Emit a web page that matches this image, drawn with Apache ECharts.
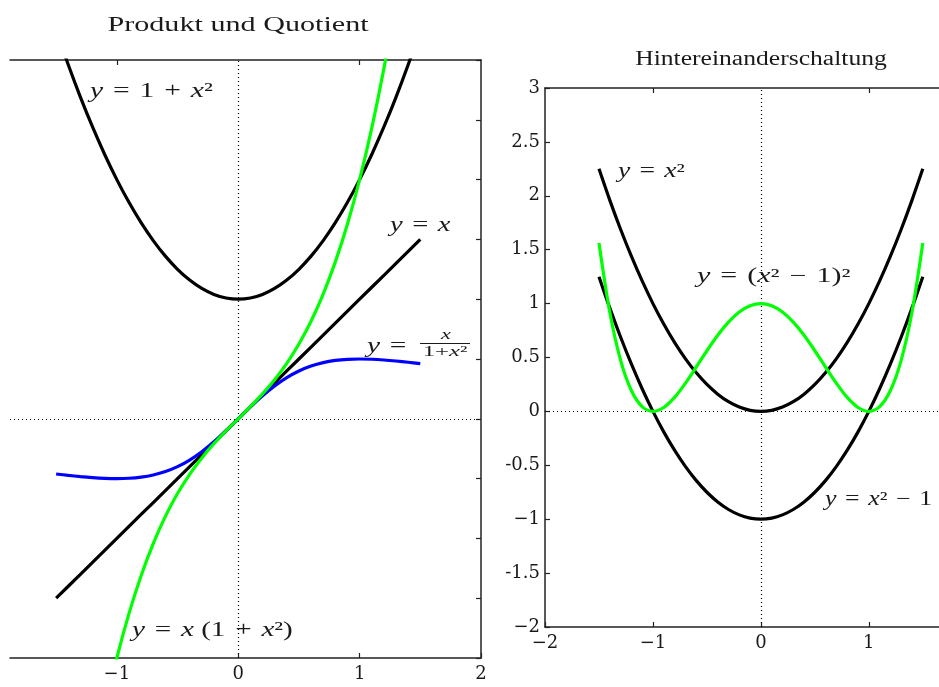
<!DOCTYPE html>
<html><head><meta charset="utf-8">
<script src="https://cdn.jsdelivr.net/npm/echarts@6/dist/echarts.min.js"></script>
<style>html,body{margin:0;padding:0;background:#fff}#c{width:939px;height:687px}</style>
</head><body><div id="c"></div>
<script>
// sample x positions
const xs = [-1.5,-1.4,-1.3,-1.2,-1.1,-1.0,-0.9,-0.8,-0.7,-0.6,-0.5,-0.4,-0.3,-0.2,-0.1,0,0.1,0.2,0.3,0.4,0.5,0.6,0.7,0.8,0.9,1.0,1.1,1.2,1.3,1.4,1.5];
// left panel: Produkt und Quotient
const yIdent = [-1.5,-1.4,-1.3,-1.2,-1.1,-1.0,-0.9,-0.8,-0.7,-0.6,-0.5,-0.4,-0.3,-0.2,-0.1,0,0.1,0.2,0.3,0.4,0.5,0.6,0.7,0.8,0.9,1.0,1.1,1.2,1.3,1.4,1.5];
const yOnePlusSq = [3.25,2.96,2.69,2.44,2.21,2.00,1.81,1.64,1.49,1.36,1.25,1.16,1.09,1.04,1.01,1.00,1.01,1.04,1.09,1.16,1.25,1.36,1.49,1.64,1.81,2.00,2.21,2.44,2.69,2.96,3.25];
const yQuotient = [-0.4615,-0.473,-0.4833,-0.4918,-0.4977,-0.5,-0.4972,-0.4878,-0.4698,-0.4412,-0.4,-0.3448,-0.2752,-0.1923,-0.099,0,0.099,0.1923,0.2752,0.3448,0.4,0.4412,0.4698,0.4878,0.4972,0.5,0.4977,0.4918,0.4833,0.473,0.4615];
const yProduct = [-4.875,-4.144,-3.497,-2.928,-2.431,-2.0,-1.629,-1.312,-1.043,-0.816,-0.625,-0.464,-0.327,-0.208,-0.101,0,0.101,0.208,0.327,0.464,0.625,0.816,1.043,1.312,1.629,2.0,2.431,2.928,3.497,4.144,4.875];
// right panel: Hintereinanderschaltung
const ySquare = [2.25,1.96,1.69,1.44,1.21,1.00,0.81,0.64,0.49,0.36,0.25,0.16,0.09,0.04,0.01,0,0.01,0.04,0.09,0.16,0.25,0.36,0.49,0.64,0.81,1.00,1.21,1.44,1.69,1.96,2.25];
const ySquareMinus1 = [1.25,0.96,0.69,0.44,0.21,0,-0.19,-0.36,-0.51,-0.64,-0.75,-0.84,-0.91,-0.96,-0.99,-1,-0.99,-0.96,-0.91,-0.84,-0.75,-0.64,-0.51,-0.36,-0.19,0,0.21,0.44,0.69,0.96,1.25];
const yComposite = [1.5625,0.9216,0.4761,0.1936,0.0441,0,0.0361,0.1296,0.2601,0.4096,0.5625,0.7056,0.8281,0.9216,0.9801,1,0.9801,0.9216,0.8281,0.7056,0.5625,0.4096,0.2601,0.1296,0.0361,0,0.0441,0.1936,0.4761,0.9216,1.5625];
// tick labels
const leftXTicks = [-1,0,1,2];
const leftXTickLabels = ['\u22121','0','1','2'];
const rightXTicks = [-2,-1,0,1];
const rightXTickLabels = ['\u22122','\u22121','0','1'];
const rightYTicks = [-2,-1.5,-1,-0.5,0,0.5,1,1.5,2,2.5,3];
const rightYTickLabels = ['\u22122','-1.5','\u22121','-0.5','0','0.5','1','1.5','2','2.5','3'];

const FONT = '"Liberation Serif", serif';
const TICKFONT = '"DejaVu Serif", serif';
const AX = '#222';
const pair = arr => xs.map((x, i) => [x, arr[i]]);
const lab = (ticks, labels) => v => { const i = ticks.findIndex(t => Math.abs(t - v) < 1e-9); return i >= 0 ? labels[i] : ''; };

const axisBase = {
  type: 'value', splitLine: {show: false},
  axisLine: {show: true, onZero: false, lineStyle: {color: AX, width: 1.5}},
  axisTick: {show: true, inside: true, length: 5, lineStyle: {color: AX, width: 1.2}},
};
const dotted = {type: [1, 3], color: '#000', width: 1.2};
const mkLine = () => ({
  silent: true, symbol: ['none', 'none'], label: {show: false},
  lineStyle: dotted, animation: false,
  data: [{yAxis: 0}, {xAxis: 0}]
});
const tickLabel = (extra) => Object.assign({color: '#1a1a1a', fontFamily: TICKFONT, fontSize: 18}, extra);

// math label helper: rich text, italic variables, horizontally stretched like the reference
const S = '\u2004';
const mathText = (x, y, text, size, sx, align) => ({
  type: 'text', x: x, y: y, scaleX: sx, scaleY: 1,
  style: {text: text, font: size + 'px ' + FONT, fill: '#1a1a1a', align: align || 'left', verticalAlign: 'middle',
    rich: {i: {fontStyle: 'italic', fontSize: size, fontFamily: 'Liberation Serif'}}}
});

const chart = echarts.init(document.getElementById('c'));
chart.setOption({
  animation: false,
  backgroundColor: '#fff',
  grid: [
    {left: 10, top: 60, width: 471, height: 598, containLabel: false, outerBoundsMode: 'none'},
    {left: 545, top: 88, width: 394, height: 539, containLabel: false, outerBoundsMode: 'none'}
  ],
  xAxis: [
    Object.assign({}, axisBase, {gridIndex: 0, position: 'bottom', min: -1.88, max: 2,
      axisTick: Object.assign({}, axisBase.axisTick, {customValues: leftXTicks}),
      axisLabel: tickLabel({customValues: leftXTicks, formatter: lab(leftXTicks, leftXTickLabels), margin: 7})}),
    Object.assign({}, axisBase, {gridIndex: 0, position: 'top', min: -1.88, max: 2,
      axisTick: Object.assign({}, axisBase.axisTick, {customValues: [-1, 1]}),
      axisLabel: {show: false}}),
    Object.assign({}, axisBase, {gridIndex: 1, position: 'bottom', min: -2, max: 1.65,
      axisTick: Object.assign({}, axisBase.axisTick, {customValues: rightXTicks}),
      axisLabel: tickLabel({customValues: rightXTicks, formatter: lab(rightXTicks, rightXTickLabels), margin: 7})}),
    Object.assign({}, axisBase, {gridIndex: 1, position: 'top', min: -2, max: 1.65,
      axisTick: Object.assign({}, axisBase.axisTick, {customValues: [-1, 1]}),
      axisLabel: {show: false}})
  ],
  yAxis: [
    Object.assign({}, axisBase, {gridIndex: 0, position: 'right', min: -2, max: 3, interval: 0.5,
      axisLabel: {show: false}}),
    Object.assign({}, axisBase, {gridIndex: 1, position: 'left', min: -2, max: 3, interval: 0.5,
      axisLabel: tickLabel({formatter: lab(rightYTicks, rightYTickLabels), margin: 5})})
  ],
  series: [
    {type: 'line', xAxisIndex: 0, yAxisIndex: 0, data: pair(yIdent), symbol: 'none', lineStyle: {color: '#000', width: 3.2}, markLine: mkLine(), z: 3},
    {type: 'line', xAxisIndex: 0, yAxisIndex: 0, data: pair(yOnePlusSq), symbol: 'none', smooth: 0.3, lineStyle: {color: '#000', width: 3.2}, z: 3},
    {type: 'line', xAxisIndex: 0, yAxisIndex: 0, data: pair(yQuotient), symbol: 'none', smooth: 0.3, lineStyle: {color: '#0000ff', width: 3.2}, z: 4},
    {type: 'line', xAxisIndex: 0, yAxisIndex: 0, data: pair(yProduct), symbol: 'none', smooth: 0.3, lineStyle: {color: '#00ff00', width: 3.2}, z: 5},
    {type: 'line', xAxisIndex: 2, yAxisIndex: 1, data: pair(ySquare), symbol: 'none', smooth: 0.3, lineStyle: {color: '#000', width: 3.2}, markLine: mkLine(), z: 3},
    {type: 'line', xAxisIndex: 2, yAxisIndex: 1, data: pair(ySquareMinus1), symbol: 'none', smooth: 0.3, lineStyle: {color: '#000', width: 3.2}, z: 3},
    {type: 'line', xAxisIndex: 2, yAxisIndex: 1, data: pair(yComposite), symbol: 'none', smooth: 0.3, lineStyle: {color: '#00ff00', width: 3.2}, z: 5}
  ],
  graphic: [
    mathText(238, 25, 'Produkt und Quotient', 22, 1.37, 'center'),
    mathText(761, 60, 'Hintereinanderschaltung', 20, 1.28, 'center'),
    mathText(90, 91, '{i|y}' + S + '=' + S + '1' + S + '+' + S + '{i|x}²', 21, 1.41),
    mathText(390, 225, '{i|y}' + S + '=' + S + '{i|x}', 21, 1.36),
    mathText(367, 346, '{i|y}' + S + '=', 21, 1.4),
    mathText(446, 335, '{i|x}', 15, 1.5, 'center'),
    {type: 'line', shape: {x1: 420, y1: 343.5, x2: 470, y2: 343.5}, style: {stroke: '#1a1a1a', lineWidth: 1}},
    mathText(445, 352, '1+{i|x}²', 15, 1.65, 'center'),
    mathText(132, 630, '{i|y}' + S + '=' + S + '{i|x} (1' + S + '+' + S + '{i|x}²)', 21, 1.39),
    mathText(618, 172, '{i|y}' + S + '=' + S + '{i|x}²', 20, 1.38),
    mathText(697, 277, '{i|y}' + S + '=' + S + '({i|x}²' + S + '\u2212' + S + '1)²', 20, 1.5),
    mathText(825, 500, '{i|y}' + S + '=' + S + '{i|x}²' + S + '\u2212' + S + '1', 20, 1.29)
  ]
});
</script>
</body></html>
